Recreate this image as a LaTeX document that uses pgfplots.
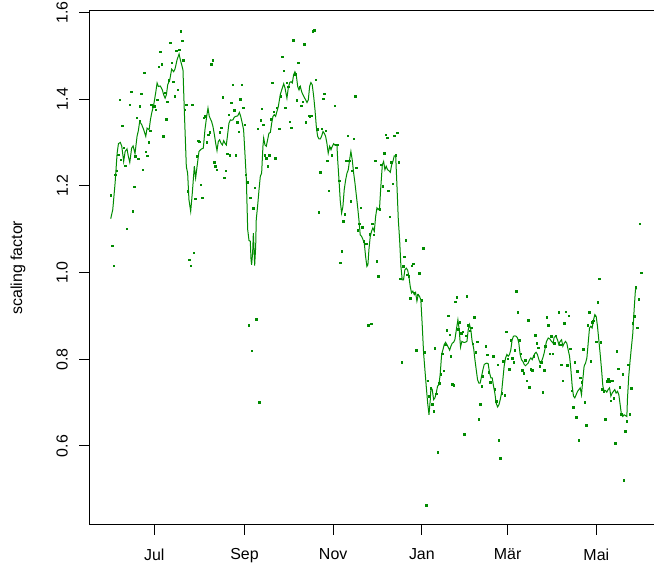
\documentclass[border=0pt]{standalone}
\usepackage{fontspec}
\setmainfont{Liberation Sans}
\usepackage{pgfplots}
\pgfplotsset{compat=1.18}
\definecolor{rgreen}{RGB}{0,139,0}

\begin{document}
\begin{tikzpicture}[x=1bp,y=1bp]
\useasboundingbox (0,0) rectangle (654,569);
\begin{axis}[
  at={(89.5bp,44.5bp)}, anchor=south west,
  scale only axis, width=573.1bp, height=513.5bp,
  xmin=-44.6, xmax=349.6, ymin=0.419, ymax=1.603,
  axis line style={line width=1bp, black},
  tick pos=left, tick align=outside,
  major tick length=10bp,
  every tick/.style={black, line width=1bp},
  font=\fontsize{16}{19}\selectfont,
  xtick={0,62,123,184,243,304},
  xticklabels={Jul,Sep,Nov,Jan,Mär,Mai},
  xticklabel style={anchor=north, inner sep=0pt, yshift=-14bp},
  ytick={0.6,0.8,1.0,1.2,1.4,1.6},
  yticklabel style={rotate=90, anchor=south, inner sep=0pt, yshift=11.5bp,
    /pgf/number format/.cd, fixed, fixed zerofill, precision=1, assume math mode=true},
  ylabel={scaling factor},
  ylabel style={at={(axis description cs:0,0.5)}, anchor=center, yshift=71.5bp},
]
% daily values
\addplot[only marks, mark=square*, mark size=0.75bp, rgreen, mark options={draw=none, fill=rgreen}] table {
-30 1.178
-29 1.062
-28 1.016
-27 1.225
-26 1.235
-25 1.272
-24 1.398
-23 1.260
-22 1.338
-21 1.288
-20 1.246
-19 1.101
-17 1.387
-16 1.417
-15 1.141
-14 1.198
-13 1.268
-12 1.357
-11 1.262
-10 1.384
-10 1.350
-9 1.412
-8 1.237
-7 1.461
-6 1.279
-5 1.269
-4 1.300
-3 1.327
-2 1.387
-1 1.384
0 1.384
1 1.375
2 1.398
3 1.475
4 1.509
5 1.480
6 1.314
7 1.415
8 1.353
9 1.394
10 1.443
11 1.530
12 1.484
13 1.440
14 1.406
15 1.512
16 1.422
17 1.514
18 1.556
19 1.535
20 1.489
21 1.375
22 1.387
23 1.187
24 1.030
25 1.016
26 1.387
27 1.046
28 1.170
29 1.268
30 1.304
31 1.302
32 1.203
33 1.173
34 1.357
35 1.360
36 1.301
37 1.318
38 1.324
39 1.480
40 1.490
41 1.254
42 1.245
43 1.237
45 1.323
46 1.334
47 1.404
48 1.219
49 1.235
50 1.274
51 1.364
52 1.271
53 1.392
54 1.433
55 1.374
56 1.271
57 1.347
58 1.325
59 1.400
60 1.433
61 1.380
62 1.341
63 1.225
64 1.208
65 0.878
66 1.172
67 0.820
68 1.148
69 1.196
70 0.892
71 1.332
72 0.701
73 1.351
74 1.378
75 1.341
76 1.270
77 1.263
78 1.245
79 1.270
80 1.353
81 1.438
82 1.371
83 1.263
84 1.380
86 1.332
87 1.407
88 1.498
89 1.465
90 1.380
91 1.438
92 1.428
93 1.348
94 1.334
95 1.536
96 1.536
97 1.457
98 1.397
99 1.484
100 1.429
101 1.385
102 1.394
103 1.526
104 1.346
106 1.362
107 1.360
108 1.362
109 1.556
110 1.559
111 1.444
112 1.330
113 1.139
114 1.231
115 1.332
116 1.401
117 1.412
118 1.327
119 1.258
120 1.189
121 1.288
122 1.270
124 1.385
125 1.295
126 1.295
127 1.212
128 1.023
129 1.049
130 1.118
131 1.134
132 1.258
133 1.315
134 1.258
135 1.164
136 1.235
137 1.309
138 1.406
139 1.242
140 1.097
141 1.113
142 1.150
143 1.104
144 1.072
145 1.067
146 1.066
147 0.878
148 1.088
149 0.882
150 1.112
151 1.087
152 1.258
153 1.026
154 0.991
155 1.146
156 1.249
157 1.199
158 1.275
159 1.318
160 1.311
161 1.189
162 1.129
163 1.254
164 1.205
165 1.316
166 1.270
167 1.322
168 1.254
169 0.986
170 0.793
171 1.014
172 1.037
173 1.074
174 0.995
175 0.991
176 0.941
177 1.016
178 1.020
179 0.953
180 0.821
181 0.949
182 0.998
184 0.936
185 1.056
186 0.816
187 0.463
188 0.751
189 0.715
190 0.733
191 0.696
192 0.680
193 0.825
194 0.721
195 0.586
196 0.745
197 0.765
198 0.813
199 0.774
200 0.834
201 0.867
202 0.901
203 0.857
204 0.807
205 0.742
206 0.740
207 0.933
208 0.943
209 0.869
210 0.885
211 0.860
212 0.864
213 0.627
214 0.854
215 0.945
216 0.879
217 0.866
218 0.873
219 0.836
220 0.897
221 0.816
222 0.841
223 0.662
224 0.696
225 0.738
226 0.761
228 0.830
229 0.811
230 0.770
231 0.747
233 0.807
234 0.731
235 0.703
236 0.788
237 0.613
238 0.572
239 0.722
240 0.795
241 0.717
242 0.864
243 0.801
244 0.777
245 0.844
246 0.802
247 0.793
248 0.821
249 0.957
250 0.908
251 0.844
252 0.813
253 0.775
254 0.768
255 0.798
256 0.751
257 0.890
258 0.735
259 0.777
260 0.775
261 0.807
262 0.855
263 0.837
264 0.827
265 0.784
266 0.793
267 0.724
268 0.775
269 0.830
270 0.897
271 0.878
272 0.813
273 0.853
274 0.813
275 0.837
276 0.854
278 0.908
279 0.834
280 0.788
281 0.751
282 0.883
283 0.910
284 0.786
285 0.901
286 0.824
287 0.728
288 0.689
289 0.793
290 0.666
291 0.772
292 0.613
293 0.758
294 0.747
295 0.823
296 0.701
297 0.648
298 0.878
299 0.908
300 0.795
301 0.885
302 0.889
303 0.901
304 0.841
305 0.931
306 0.986
307 0.839
308 0.731
309 0.726
310 0.662
311 0.749
312 0.755
313 0.749
314 0.705
315 0.751
316 0.710
317 0.606
318 0.818
319 0.778
320 0.735
321 0.673
322 0.765
323 0.521
324 0.634
325 0.657
326 0.788
327 0.673
328 0.733
329 0.883
330 0.899
331 0.966
332 0.873
333 0.938
334 1.112
335 1.000
};
% smoothed curve
\addplot[rgreen, line width=1bp, no marks] table {
-30.0 1.124
-28.6 1.145
-27.0 1.206
-25.6 1.275
-24.7 1.297
-23.4 1.300
-22.4 1.291
-21.1 1.256
-20.1 1.279
-18.8 1.285
-17.9 1.268
-16.9 1.254
-15.6 1.287
-14.6 1.292
-13.3 1.274
-11.9 1.314
-11.0 1.327
-10.1 1.348
-8.7 1.341
-7.3 1.329
-5.9 1.314
-5.0 1.333
-3.6 1.329
-2.7 1.352
-1.8 1.368
-0.4 1.387
0.9 1.414
1.9 1.437
2.8 1.429
4.1 1.430
5.5 1.421
6.4 1.410
7.4 1.402
8.3 1.410
9.2 1.433
10.6 1.444
11.9 1.469
13.3 1.463
14.2 1.469
15.6 1.490
17.0 1.504
17.9 1.490
18.8 1.479
19.7 1.467
20.6 1.375
22.0 1.244
22.9 1.229
23.8 1.168
25.0 1.141
26.1 1.183
27.5 1.245
28.4 1.218
29.4 1.245
30.7 1.279
32.1 1.284
33.7 1.287
34.8 1.329
36.0 1.360
36.9 1.379
37.8 1.360
39.4 1.348
40.3 1.337
41.3 1.318
42.2 1.298
43.1 1.281
44.0 1.302
44.9 1.306
45.9 1.298
46.8 1.294
47.7 1.304
48.6 1.298
49.5 1.294
50.4 1.318
51.3 1.344
52.3 1.352
53.2 1.351
54.1 1.352
55.0 1.358
55.9 1.360
57.3 1.361
58.5 1.369
59.4 1.360
60.5 1.344
61.4 1.329
62.3 1.275
63.3 1.214
64.2 1.099
65.1 1.074
66.0 1.072
66.5 1.030
66.9 1.018
67.6 1.045
68.1 1.091
68.5 1.060
69.0 1.016
69.7 1.060
70.1 1.122
71.1 1.156
72.0 1.191
72.9 1.222
73.8 1.229
74.7 1.291
75.2 1.310
76.1 1.294
77.0 1.291
77.9 1.306
78.8 1.321
79.8 1.323
80.7 1.344
81.6 1.360
82.5 1.364
83.4 1.360
84.3 1.371
85.3 1.383
86.6 1.410
87.6 1.421
89.0 1.435
89.9 1.425
91.2 1.402
92.1 1.425
93.1 1.438
94.0 1.440
94.9 1.437
95.8 1.456
96.7 1.463
97.6 1.456
98.6 1.429
99.5 1.421
100.4 1.429
101.3 1.417
102.2 1.410
103.1 1.404
104.1 1.398
105.0 1.392
105.9 1.398
106.8 1.429
107.7 1.438
108.6 1.433
109.6 1.406
110.5 1.375
111.4 1.337
112.3 1.314
113.2 1.308
114.2 1.308
115.1 1.315
116.0 1.325
116.9 1.321
117.8 1.314
118.7 1.298
119.6 1.275
120.6 1.291
121.5 1.283
122.4 1.291
123.3 1.297
124.2 1.294
125.6 1.294
126.1 1.260
127.0 1.214
127.9 1.164
128.8 1.137
129.7 1.152
130.6 1.191
131.6 1.214
132.5 1.229
133.4 1.237
134.3 1.260
135.2 1.279
136.1 1.260
137.1 1.229
138.0 1.206
138.9 1.179
139.8 1.152
140.7 1.122
141.6 1.087
142.6 1.083
143.5 1.076
144.4 1.068
145.3 1.037
146.2 1.014
146.9 1.018
147.6 1.053
148.5 1.083
149.4 1.095
150.3 1.103
151.3 1.095
152.2 1.129
153.1 1.149
154.0 1.145
154.9 1.149
155.8 1.199
156.8 1.248
157.7 1.256
158.6 1.237
159.5 1.245
160.4 1.237
161.3 1.235
162.3 1.231
163.2 1.248
164.1 1.256
165.0 1.269
166.0 1.269
166.8 1.206
167.8 1.122
168.7 1.076
169.6 1.014
170.5 0.983
171.4 0.983
172.3 1.006
173.3 1.010
174.2 1.006
175.1 0.991
176.0 0.968
176.9 0.953
177.8 0.957
178.8 0.949
179.7 0.954
180.6 0.934
181.5 0.949
182.4 0.945
183.3 0.937
184.3 0.876
185.2 0.814
186.1 0.776
187.0 0.738
188.0 0.699
188.9 0.672
189.8 0.707
190.2 0.731
191.1 0.731
192.1 0.707
193.0 0.711
193.9 0.722
194.8 0.738
195.7 0.741
196.6 0.765
197.6 0.811
198.5 0.822
199.4 0.834
200.3 0.839
201.2 0.834
202.1 0.828
203.1 0.821
204.0 0.830
204.9 0.837
205.8 0.839
206.7 0.845
207.9 0.872
208.8 0.891
209.7 0.868
210.6 0.828
211.5 0.841
212.7 0.839
213.6 0.839
215.0 0.841
215.9 0.868
216.8 0.880
217.7 0.868
218.6 0.841
219.6 0.826
220.5 0.799
221.4 0.776
222.3 0.753
223.2 0.745
224.1 0.745
225.1 0.761
226.0 0.776
226.9 0.788
227.8 0.790
228.7 0.791
229.6 0.790
230.6 0.768
231.5 0.757
232.4 0.757
233.3 0.738
234.2 0.722
235.1 0.699
236.1 0.690
237.0 0.695
237.9 0.707
238.8 0.722
239.7 0.753
240.6 0.784
241.6 0.803
242.5 0.811
243.4 0.807
244.3 0.811
245.2 0.822
246.1 0.845
247.0 0.853
248.0 0.854
248.9 0.853
249.8 0.849
250.7 0.837
251.6 0.811
252.5 0.799
253.5 0.795
254.4 0.788
255.3 0.785
256.2 0.788
257.1 0.791
258.1 0.799
259.0 0.803
259.9 0.799
260.8 0.807
261.7 0.813
262.6 0.816
263.5 0.811
264.5 0.799
265.4 0.791
266.3 0.795
267.2 0.803
268.1 0.814
269.7 0.841
270.9 0.849
272.0 0.847
273.2 0.841
274.3 0.837
275.0 0.851
276.2 0.853
277.3 0.845
278.2 0.834
279.1 0.841
280.1 0.845
281.0 0.830
281.9 0.837
282.8 0.841
283.7 0.837
284.6 0.822
285.6 0.807
286.5 0.776
287.4 0.738
288.3 0.715
289.2 0.711
290.1 0.718
291.1 0.726
292.0 0.730
292.9 0.734
293.8 0.718
294.7 0.753
295.6 0.784
296.6 0.791
297.5 0.803
298.4 0.837
299.3 0.872
300.2 0.876
301.1 0.872
302.1 0.891
303.0 0.903
303.9 0.899
304.8 0.876
305.7 0.845
306.6 0.814
307.6 0.776
308.5 0.738
309.4 0.726
310.3 0.728
311.2 0.724
312.1 0.730
313.1 0.734
314.0 0.715
314.9 0.722
315.8 0.726
316.7 0.730
317.6 0.722
318.6 0.726
319.5 0.718
320.4 0.695
321.3 0.672
322.2 0.668
323.1 0.672
324.1 0.670
325.0 0.668
325.4 0.707
326.3 0.761
327.3 0.799
328.2 0.830
329.1 0.860
330.0 0.914
330.9 0.960
331.8 0.964
};
\end{axis}
\end{tikzpicture}
\end{document}
